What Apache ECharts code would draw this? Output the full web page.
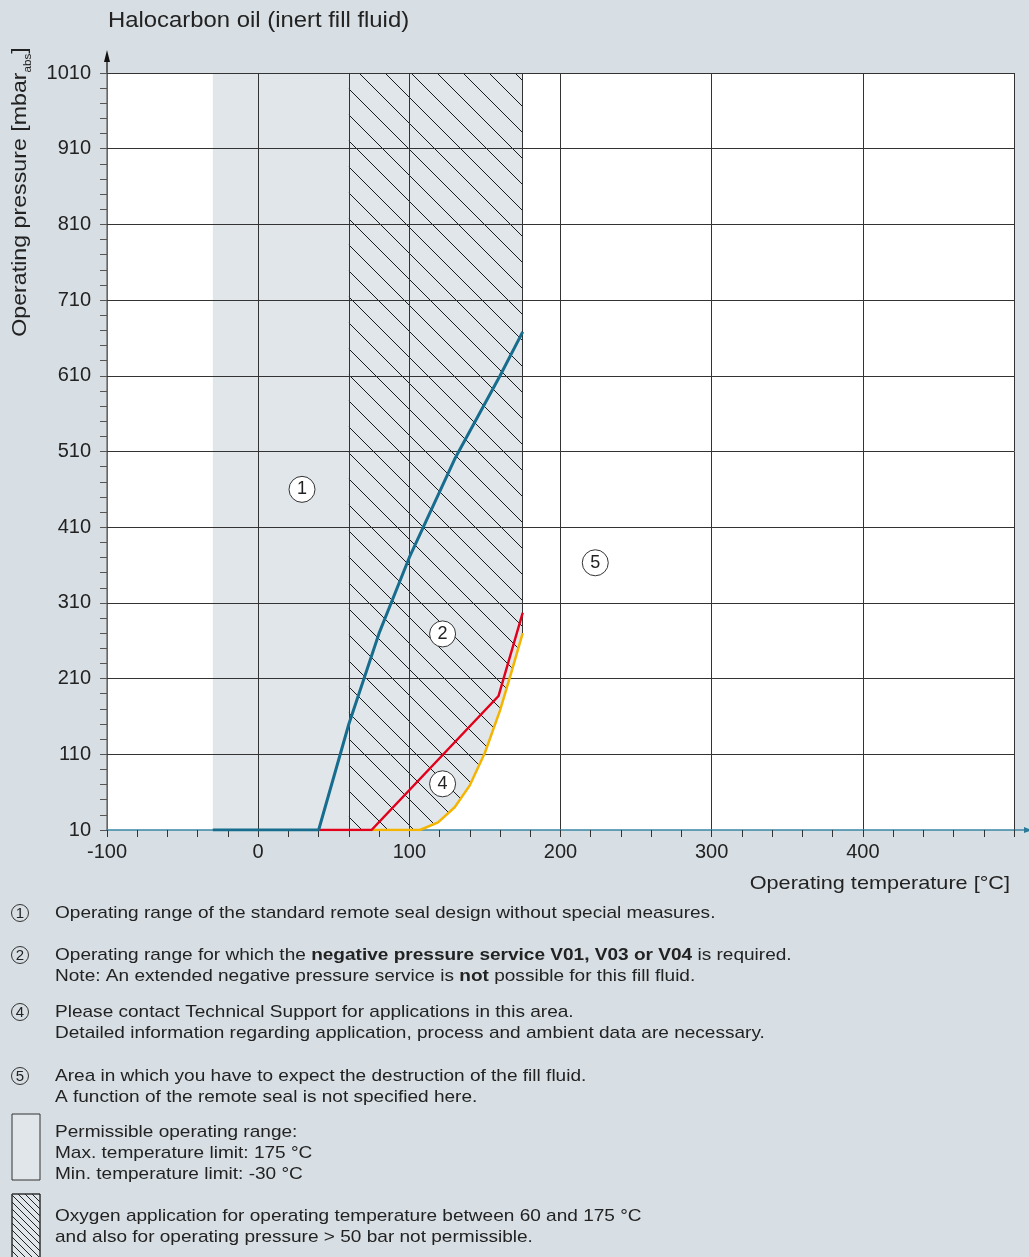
<!DOCTYPE html>
<html>
<head>
<meta charset="utf-8">
<script src="https://cdn.jsdelivr.net/npm/echarts@6/dist/echarts.min.js"></script>
<style>
  html, body { margin: 0; padding: 0; background: #d8dfe4; }
  #chart { width: 1029px; height: 1257px; }
</style>
</head>
<body>
<div id="chart"></div>
<script>
// curves (temperature in °C, pressure in mbar abs)
const blueTemp = [-30, 40, 60, 80, 100, 130, 160, 175];
const bluePress = [10, 10, 150, 270, 370, 500, 610, 668];
const redTemp = [40, 75, 159, 175];
const redPress = [10, 10, 187, 297];
const yellowTemp = [75, 107, 119, 130, 140, 150, 160, 167, 175];
const yellowPress = [10, 10, 20, 40, 69, 112, 168, 215, 270];

// range limits
const rangeMin = -30;
const rangeMax = 175;
const oxygenMin = 60;
const pMin = 10;
const pMax = 1010;

// circled area markers
const markerIds = ["1", "2", "4", "5"];
const markerTemp = [29, 122, 122, 223];
const markerPress = [460, 269, 71, 363];

// axis ticks
const yLabels = [10, 110, 210, 310, 410, 510, 610, 710, 810, 910, 1010];
const yTicks = [];
for (let v = pMin; v <= pMax; v += 20) yTicks.push(v);

const FONT = "Liberation Sans";
const gridLeft = 107, gridTop = 73, gridRight = 15, gridBottom = 427;
const axisY = 1257 - gridBottom;

const zip = (xs, ys) => xs.map((x, i) => [x, ys[i]]);
const yellowPts = zip(yellowTemp, yellowPress);

// gray permitted range: left of the yellow curve
const grayPoly = [[rangeMin, pMax], [rangeMax, pMax]]
  .concat(yellowPts.slice().reverse())
  .concat([[rangeMin, pMin]]);
const hatchPoly = [[oxygenMin, pMax], [rangeMax, pMax]]
  .concat(yellowPts.slice().reverse().filter((p) => p[0] >= oxygenMin))
  .concat([[oxygenMin, pMin]]);

function hatch(step, color) {
  const c = document.createElement("canvas");
  c.width = step;
  c.height = step;
  const g = c.getContext("2d");
  g.strokeStyle = color;
  g.lineWidth = 1;
  g.beginPath();
  for (const k of [-1, 0, 1]) {
    g.moveTo(0, k * step);
    g.lineTo(step, step + k * step);
  }
  g.stroke();
  return { image: c, repeat: "repeat" };
}

function polygonSeries(points, fill, z) {
  return {
    type: "custom",
    z,
    silent: true,
    data: [[0, 0]],
    renderItem: (params, api) => ({
      type: "polygon",
      shape: { points: points.map((p) => api.coord(p)) },
      style: { fill },
    }),
  };
}

const chart = echarts.init(document.getElementById("chart"));

// reference text is set a little wider than Liberation Sans
function txt(x, y, text, extra, sx) {
  const size = (extra && extra.fontSize) || 17;
  return {
    type: "text",
    x,
    y,
    scaleX: sx || 1.12,
    silent: true,
    style: Object.assign(
      {
        text,
        fontSize: 17,
        fontFamily: FONT,
        fill: "#222",
        verticalAlign: "middle",
        rich: { b: { fontWeight: "bold", fontSize: size, fontFamily: FONT, fill: "#222" } },
      },
      extra || {}
    ),
  };
}

function circled(x, y, n) {
  return [
    { type: "circle", silent: true, shape: { cx: x, cy: y, r: 8.5 }, style: { fill: "none", stroke: "#333", lineWidth: 1 } },
    txt(x, y + 1, n, { align: "center", fontSize: 15 }, 1),
  ];
}

const legendGraphics = [].concat(
  circled(20, 913, "1"),
  [txt(55, 913, "Operating range of the standard remote seal design without special measures.")],
  circled(20, 955, "2"),
  [
    txt(55, 955, "Operating range for which the {b|negative pressure service V01, V03 or V04} is required."),
    txt(55, 976, "Note: An extended negative pressure service is {b|not} possible for this fill fluid."),
  ],
  circled(20, 1012, "4"),
  [
    txt(55, 1012, "Please contact Technical Support for applications in this area."),
    txt(55, 1033, "Detailed information regarding application, process and ambient data are necessary."),
  ],
  circled(20, 1076, "5"),
  [
    txt(55, 1076, "Area in which you have to expect the destruction of the fill fluid."),
    txt(55, 1097, "A function of the remote seal is not specified here."),
  ],
  [
    { type: "rect", silent: true, shape: { x: 12, y: 1114, width: 28, height: 66 }, style: { fill: "#e1e6ea", stroke: "#333", lineWidth: 1 } },
    txt(55, 1132, "Permissible operating range:"),
    txt(55, 1153, "Max. temperature limit: 175 °C"),
    txt(55, 1174, "Min. temperature limit: -30 °C"),
    { type: "rect", silent: true, shape: { x: 12, y: 1194, width: 28, height: 80 }, style: { fill: "#e1e6ea", stroke: "#333", lineWidth: 1 } },
    { type: "rect", silent: true, shape: { x: 12, y: 1194, width: 28, height: 80 }, style: { fill: hatch(7, "#222"), stroke: "#333", lineWidth: 1 } },
    txt(55, 1216, "Oxygen application for operating temperature between 60 and 175 °C"),
    txt(55, 1237, "and also for operating pressure > 50 bar not permissible."),
  ]
);

const axisGraphics = [
  // title
  txt(108, 21, "Halocarbon oil (inert fill fluid)", { fontSize: 22 }, 1.085),
  // y axis name with subscript
  {
    type: "text",
    x: 20,
    y: 192,
    rotation: Math.PI / 2,
    scaleX: 1.16,
    silent: true,
    style: {
      text: "{a|Operating pressure [mbar}{s|abs}{a|]}",
      align: "center",
      verticalAlign: "middle",
      rich: {
        a: { fontSize: 20, fontFamily: FONT, fill: "#222", lineHeight: 26 },
        s: { fontSize: 10, fontFamily: FONT, fill: "#222", lineHeight: 26, verticalAlign: "bottom", padding: [10, 0, 0, 0] },
      },
    },
  },
  // x axis name
  txt(1010, 884, "Operating temperature [°C]", { align: "right", fontSize: 19 }, 1.14),
  // y axis extension + arrow
  { type: "line", silent: true, shape: { x1: gridLeft, y1: gridTop, x2: gridLeft, y2: 58 }, style: { stroke: "#333", lineWidth: 1.5 } },
  { type: "polygon", silent: true, shape: { points: [[gridLeft, 50], [gridLeft - 3, 62], [gridLeft + 3, 62]] }, style: { fill: "#111" } },
  // x axis extension + arrow
  { type: "line", silent: true, shape: { x1: 1029 - gridRight, y1: axisY, x2: 1029, y2: axisY }, style: { stroke: "#3a87a5", lineWidth: 1.5 } },
  { type: "polygon", silent: true, shape: { points: [[1032, axisY], [1024, axisY - 3], [1024, axisY + 3]] }, style: { fill: "#2d7a98" } },
];

const option = {
  backgroundColor: "#d8dfe4",
  animation: false,
  textStyle: { fontFamily: FONT },
  grid: {
    left: gridLeft,
    top: gridTop,
    right: gridRight,
    bottom: gridBottom,
    show: true,
    backgroundColor: "#ffffff",
    borderWidth: 0,
  },
  xAxis: {
    type: "value",
    min: -100,
    max: 500,
    interval: 100,
    z: 3,
    axisLine: { show: true, onZero: false, lineStyle: { color: "#3a87a5", width: 1.5 } },
    axisTick: { show: true, length: 7, lineStyle: { color: "#333" } },
    minorTick: { show: true, splitNumber: 5, length: 7, lineStyle: { color: "#333" } },
    axisLabel: { fontSize: 20, color: "#222", margin: 12, showMaxLabel: false },
    splitLine: { show: true, lineStyle: { color: "#333", width: 1 } },
  },
  yAxis: {
    type: "value",
    min: pMin,
    max: pMax,
    z: 3,
    axisLine: { show: true, onZero: false, lineStyle: { color: "#777", width: 1.5 } },
    axisTick: { show: true, customValues: yTicks, length: 7, lineStyle: { color: "#555" } },
    axisLabel: { customValues: yLabels, fontSize: 20, color: "#222", margin: 16, formatter: (v) => String(v) },
    splitLine: { show: false },
  },
  series: [
    polygonSeries(grayPoly, "#e1e6ea", 1),
    polygonSeries(hatchPoly, hatch(26, "#1a1a1a"), 2),
    {
      type: "line",
      z: 3,
      silent: true,
      data: [[rangeMin, pMin]],
      symbol: "none",
      lineStyle: { width: 0 },
      markLine: {
        silent: true,
        symbol: "none",
        label: { show: false },
        lineStyle: { color: "#333", width: 1, type: "solid" },
        data: yLabels
          .slice(1)
          .map((v) => ({ yAxis: v }))
          .concat([
            [{ coord: [oxygenMin, pMin] }, { coord: [oxygenMin, pMax] }],
            [{ coord: [rangeMax, yellowPress[yellowPress.length - 1]] }, { coord: [rangeMax, pMax] }],
          ]),
      },
    },
    {
      type: "line",
      z: 5,
      data: zip(yellowTemp, yellowPress),
      symbol: "none",
      lineStyle: { color: "#f5b400", width: 2.5 },
    },
    {
      type: "line",
      z: 5,
      data: zip(redTemp, redPress),
      symbol: "none",
      lineStyle: { color: "#e2001a", width: 2.5 },
    },
    {
      type: "line",
      z: 5,
      data: zip(blueTemp, bluePress),
      symbol: "none",
      lineStyle: { color: "#176d8e", width: 3 },
    },
    {
      type: "scatter",
      z: 6,
      symbol: "circle",
      symbolSize: 26,
      itemStyle: { color: "#ffffff", borderColor: "#333", borderWidth: 1, opacity: 1 },
      label: {
        show: true,
        position: "inside",
        formatter: (p) => p.value[2],
        color: "#222",
        fontSize: 18,
        fontFamily: FONT,
      },
      data: markerTemp.map((t, i) => [t, markerPress[i], markerIds[i]]),
    },
  ],
  graphic: { elements: axisGraphics.concat(legendGraphics) },
};

chart.setOption(option);
</script>
</body>
</html>
